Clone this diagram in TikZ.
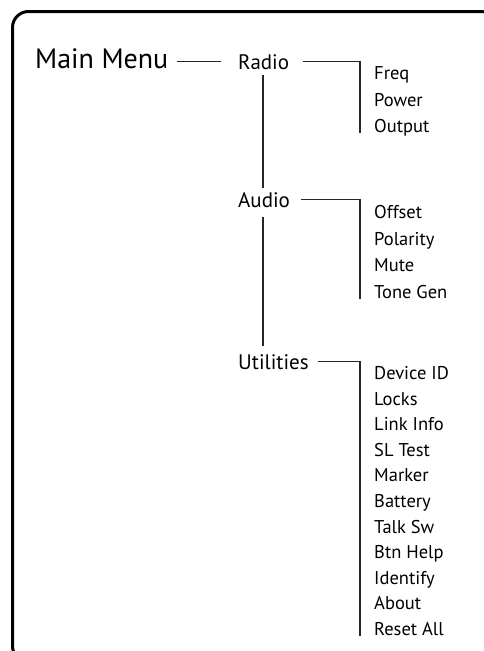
\documentclass[tikz,border=0pt]{standalone}
\usepackage{fontspec}
\setmainfont{PT Sans}
\usetikzlibrary{positioning,calc}

\begin{document}
\begin{tikzpicture}[
  x=1pt,y=-1pt,
  menu/.style={inner sep=0pt,anchor=base west,font=\fontsize{21}{23}\selectfont},
  item/.style={inner sep=0pt,anchor=base west,font=\fontsize{18.5}{20}\selectfont},
  link/.style={line width=1.4pt,draw=black!85},
  frame/.style={line width=3pt,rounded corners=16pt},
]
\useasboundingbox (0,0) rectangle (484,651);
% frame (runs off the right and bottom edges)
\draw[frame] (12.5,11.5) rectangle (497,662);
% Main menu and submenus
\node[menu,font=\fontsize{28}{30}\selectfont] (main) at (35,68) {Main Menu};
\node[menu] (radio) at (238,69) {Radio};
\node[menu] (audio) at (238,207) {Audio};
\node[menu] (util) at (238,369) {Utilities};
\draw[link,shorten <=8pt,shorten >=17pt] (radio.west -| main.east) -- (radio.west);
% trunk
\coordinate (trunk) at (263,0);
\draw[link,shorten <=6pt,shorten >=4pt] (trunk |- radio.south) -- (trunk |- audio.north);
\draw[link,shorten <=10pt,shorten >=8pt] (trunk |- audio.south) -- (trunk |- util.north);
% items
\coordinate (bx) at (360,0);
\foreach \txt [count=\i] in {Freq,Power,Output}
  \node[item] (radio-\i) at (374,{79.5+26.7*(\i-1)}) {\txt};
\foreach \txt [count=\i] in {Offset,Polarity,Mute,Tone Gen}
  \node[item] (audio-\i) at (374,{218.5+26.7*(\i-1)}) {\txt};
\foreach \txt [count=\i] in {Device ID,Locks,Link Info,SL Test,Marker,Battery,Talk Sw,Btn Help,Identify,About,Reset All}
  \node[item] (util-\i) at (374,{379.5+25.6*(\i-1)}) {\txt};
% brackets
\draw[link,shorten <=14pt] (radio.east) -- (radio.east -| bx) -- (bx |- radio-3.base);
\draw[link,shorten <=11pt] (audio.east) -- (audio.east -| bx) -- (bx |- audio-4.base);
\draw[link,shorten <=9pt] (util.east) -- (util.east -| bx) -- (bx |- util-11.base);
\end{tikzpicture}
\end{document}
